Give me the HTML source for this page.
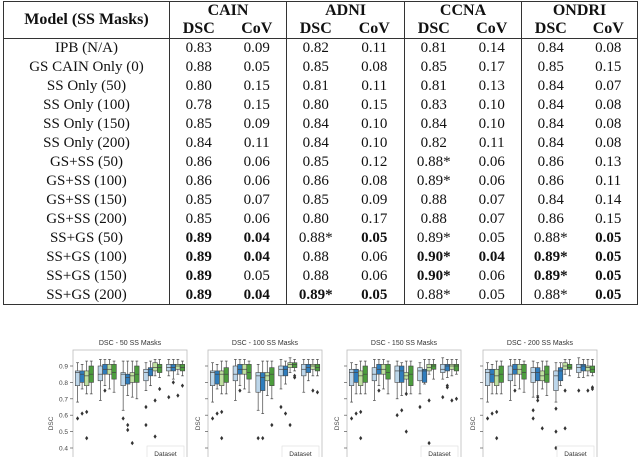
<!DOCTYPE html>
<html><head><meta charset="utf-8">
<style>
html,body{margin:0;padding:0;background:#fff;}
body{width:640px;height:457px;position:relative;overflow:hidden;font-family:"Liberation Serif",serif;color:#111;}
table{position:absolute;left:3px;top:1px;width:634px;border-collapse:collapse;font-size:15px;table-layout:fixed;}
td,th{padding:0;text-align:center;line-height:14px;}
#tb tr{height:19px;}
th{font-weight:bold;font-size:16px;}
.bl{border-left:1px solid #333;}
.b{font-weight:bold;}
#charts{position:absolute;left:0;top:330px;}
</style></head><body>
<table style="border:1px solid #333">
<colgroup><col style="width:166px"><col style="width:58px"><col style="width:59px"><col style="width:58px"><col style="width:60px"><col style="width:58px"><col style="width:59px"><col style="width:58px"><col style="width:58px"></colgroup>
<tr style="height:18px"><th rowspan="2" style="font-size:16px;border-bottom:1px solid #333">Model (SS Masks)</th>
<th colspan="2" class="bl">CAIN</th><th colspan="2" class="bl">ADNI</th><th colspan="2" class="bl">CCNA</th><th colspan="2" class="bl">ONDRI</th></tr>
<tr style="height:19px;border-bottom:1px solid #333"><th class="bl">DSC</th><th>CoV</th><th class="bl">DSC</th><th>CoV</th><th class="bl">DSC</th><th>CoV</th><th class="bl">DSC</th><th>CoV</th></tr>
<tbody id="tb"></tbody>
</table>
<svg id="charts" width="640" height="127"></svg>
<script>
const rows=[
["IPB (N/A)","0.83","0.09","0.82","0.11","0.81","0.14","0.84","0.08"],
["GS CAIN Only (0)","0.88","0.05","0.85","0.08","0.85","0.17","0.85","0.15"],
["SS Only (50)","0.80","0.15","0.81","0.11","0.81","0.13","0.84","0.07"],
["SS Only (100)","0.78","0.15","0.80","0.15","0.83","0.10","0.84","0.08"],
["SS Only (150)","0.85","0.09","0.84","0.10","0.84","0.10","0.84","0.08"],
["SS Only (200)","0.84","0.11","0.84","0.10","0.82","0.11","0.84","0.08"],
["GS+SS (50)","0.86","0.06","0.85","0.12","0.88*","0.06","0.86","0.13"],
["GS+SS (100)","0.86","0.06","0.86","0.08","0.89*","0.06","0.86","0.11"],
["GS+SS (150)","0.85","0.07","0.85","0.09","0.88","0.07","0.84","0.14"],
["GS+SS (200)","0.85","0.06","0.80","0.17","0.88","0.07","0.86","0.15"],
["SS+GS (50)","!0.89","!0.04","0.88*","!0.05","0.89*","0.05","0.88*","!0.05"],
["SS+GS (100)","!0.89","!0.04","0.88","0.06","!0.90*","!0.04","!0.89*","!0.05"],
["SS+GS (150)","!0.89","0.05","0.88","0.06","!0.90*","0.06","!0.89*","!0.05"],
["SS+GS (200)","!0.89","!0.04","!0.89*","!0.05","0.88*","0.05","0.88*","!0.05"]];
const tb=document.getElementById('tb');
rows.forEach((r,i)=>{const tr=document.createElement('tr');


r.forEach((c,j)=>{const td=document.createElement('td');
if(j%2==1)td.className='bl';
if(c[0]=='!'){td.classList.add('b');c=c.slice(1);}
td.textContent=c;tr.appendChild(td);});tb.appendChild(tr);});

const q1s=[
[.78,.80,.78,.80,.81,.85,.85,.82,.78,.79,.80,.80,.81,.84,.87,.86,.87,.87,.88,.87],
[.78,.79,.78,.80,.81,.85,.85,.82,.74,.75,.81,.78,.84,.84,.89,.89,.84,.86,.88,.87],
[.78,.80,.78,.80,.81,.85,.85,.82,.80,.80,.82,.78,.81,.80,.87,.88,.86,.87,.88,.87],
[.78,.80,.78,.80,.81,.85,.85,.82,.80,.81,.81,.80,.75,.81,.88,.88,.86,.87,.87,.86]];
const meds=[
[.86,.85,.84,.85,.85,.88,.88,.86,.85,.83,.84,.85,.86,.88,.89,.89,.89,.89,.90,.89],
[.86,.85,.85,.85,.85,.88,.88,.86,.84,.83,.84,.85,.88,.88,.91,.91,.88,.89,.90,.89],
[.86,.86,.84,.85,.85,.88,.88,.86,.87,.87,.84,.85,.87,.87,.89,.90,.88,.90,.90,.90],
[.86,.85,.84,.85,.85,.88,.88,.86,.86,.86,.84,.85,.84,.87,.90,.89,.89,.90,.89,.88]];
const q3s=[
[.87,.87,.87,.90,.90,.91,.91,.91,.86,.85,.86,.90,.88,.89,.92,.91,.91,.91,.91,.91],
[.87,.87,.87,.89,.90,.91,.91,.91,.86,.86,.86,.89,.90,.90,.92,.92,.91,.91,.91,.91],
[.88,.88,.87,.90,.89,.91,.91,.91,.90,.90,.86,.90,.89,.88,.91,.91,.91,.91,.91,.91],
[.88,.88,.88,.90,.90,.91,.91,.91,.89,.89,.87,.90,.87,.89,.92,.91,.91,.91,.90,.90]];
const los=[
[.68,.76,.73,.73,.69,.78,.76,.74,.63,.72,.71,.70,.75,.78,.84,.83,.84,.82,.85,.84],
[.68,.76,.73,.73,.69,.78,.76,.74,.63,.61,.72,.70,.76,.79,.86,.87,.74,.81,.84,.84],
[.68,.73,.73,.73,.69,.78,.76,.73,.70,.72,.73,.73,.73,.79,.85,.82,.82,.83,.84,.85],
[.68,.73,.73,.73,.69,.78,.76,.74,.71,.72,.76,.72,.68,.78,.85,.84,.83,.83,.84,.84]];
const his=[
[.92,.91,.93,.93,.94,.94,.94,.93,.93,.93,.93,.93,.92,.93,.94,.94,.94,.94,.94,.93],
[.92,.91,.93,.93,.94,.94,.94,.93,.91,.93,.93,.93,.94,.93,.95,.94,.94,.94,.94,.94],
[.92,.91,.93,.93,.94,.94,.94,.93,.93,.92,.93,.93,.92,.94,.94,.94,.95,.94,.94,.94],
[.92,.91,.93,.93,.94,.94,.94,.93,.93,.92,.93,.93,.92,.92,.94,.94,.95,.94,.94,.94]];
const outs=[
[[0,.58],[1,.61],[2,.62],[2,.46],[5,.75],[8,.58],[9,.54],[9,.51],[10,.43],[12,.65],[12,.54],[14,.69],[14,.47],[15,.76],[16,.71],[17,.80],[18,.72],[19,.78]],
[[0,.58],[1,.61],[2,.62],[2,.46],[5,.75],[8,.46],[9,.46],[11,.54],[12,.65],[13,.61],[14,.54],[15,.83],[15,.84],[18,.75],[19,.74]],
[[0,.58],[1,.61],[2,.62],[2,.46],[5,.75],[8,.60],[9,.63],[10,.73],[10,.50],[12,.65],[14,.69],[14,.43],[14,.40],[16,.71],[17,.77],[17,.78],[18,.69],[19,.70]],
[[0,.58],[1,.61],[2,.62],[2,.46],[5,.75],[8,.63],[8,.58],[9,.71],[9,.69],[10,.52],[12,.64],[12,.50],[12,.40],[14,.75],[14,.52],[16,.75],[18,.75],[19,.76],[19,.77]]];
const titles=["DSC - 50 SS Masks","DSC - 100 SS Masks","DSC - 150 SS Masks","DSC - 200 SS Masks"];
const yTicks=[0.4,0.5,0.6,0.7,0.8,0.9];
const colors=["#bcd6ea","#2f7dbd","#bfe0a0","#4c9d3d"];
const lefts=[73,208,347,483], W=114;
const svg=document.getElementById('charts');
const NS="http://www.w3.org/2000/svg";
function yS(v){return 36+(0.9-v)*164;}
function mk(t,a,p){const e=document.createElementNS(NS,t);for(const k in a)e.setAttribute(k,a[k]);(p||svg).appendChild(e);return e;}
for(let p=0;p<4;p++){
  const L=lefts[p];
  const g=mk('g',{});
  
  
  const t=mk('text',{x:L+W/2,y:15,'font-size':7,'text-anchor':'middle','font-family':'Liberation Sans, sans-serif',fill:'#333'},g);
  t.textContent=titles[p];
  
  
  mk('rect',{x:L,y:20,width:W,height:110,fill:'none',stroke:'#bbb','stroke-width':0.8},g);
  yTicks.forEach(v=>{mk('line',{x1:L-3,x2:L,y1:yS(v),y2:yS(v),stroke:'#555','stroke-width':0.7},g);
    if(p==0){const tx=mk('text',{x:L-5,y:yS(v)+2.5,'font-size':6.5,'text-anchor':'end','font-family':'Liberation Sans, sans-serif',fill:'#444'},g);tx.textContent=v.toFixed(1);}});
  const yl=mk('text',{x:0,y:0,'font-size':6.5,'font-family':'Liberation Sans, sans-serif',fill:'#444','text-anchor':'middle',transform:`translate(${L-(p==0?20:8)},${yS(0.55)}) rotate(-90)`},g);
  yl.textContent='DSC';
  
  
  const gw=W/5, bw=gw*0.8/4;
  for(let i=0;i<20;i++){
    const gi=Math.floor(i/4), m=i%4;
    const x=L+gi*gw+gw*0.1+m*bw, cx=x+bw/2;
    mk('line',{x1:cx,x2:cx,y1:yS(his[p][i]),y2:yS(q3s[p][i]),stroke:'#444','stroke-width':0.7},g);
    mk('line',{x1:cx,x2:cx,y1:yS(q1s[p][i]),y2:yS(los[p][i]),stroke:'#444','stroke-width':0.7},g);
    mk('line',{x1:cx-bw*0.3,x2:cx+bw*0.3,y1:yS(his[p][i]),y2:yS(his[p][i]),stroke:'#444','stroke-width':0.7},g);
    mk('line',{x1:cx-bw*0.3,x2:cx+bw*0.3,y1:yS(los[p][i]),y2:yS(los[p][i]),stroke:'#444','stroke-width':0.7},g);
    const r=mk('rect',{x:x,y:yS(q3s[p][i]),width:bw,height:yS(q1s[p][i])-yS(q3s[p][i]),fill:colors[m],stroke:'#444','stroke-width':0.6},g);
    
    
    mk('line',{x1:x,x2:x+bw,y1:yS(meds[p][i]),y2:yS(meds[p][i]),stroke:'#444','stroke-width':0.7},g);
  }
  outs[p].forEach(o=>{const gi=Math.floor(o[0]/4),m=o[0]%4;const cx=L+gi*gw+gw*0.1+m*bw+bw/2;
    const d=mk('path',{d:`M${cx},${yS(o[1])-2.2}L${cx+1.6},${yS(o[1])}L${cx},${yS(o[1])+2.2}L${cx-1.6},${yS(o[1])}Z`,fill:'#333'},g);
    
    });
  mk('rect',{x:L+W-40,y:116,width:37,height:14,fill:'#fff',stroke:'#ddd','stroke-width':0.6},g);
  const lt=mk('text',{x:L+W-21.5,y:126,'font-size':6.5,'text-anchor':'middle','font-family':'Liberation Sans, sans-serif',fill:'#333'},g);
  lt.textContent='Dataset';
  
  
}
</script>
</body></html>
